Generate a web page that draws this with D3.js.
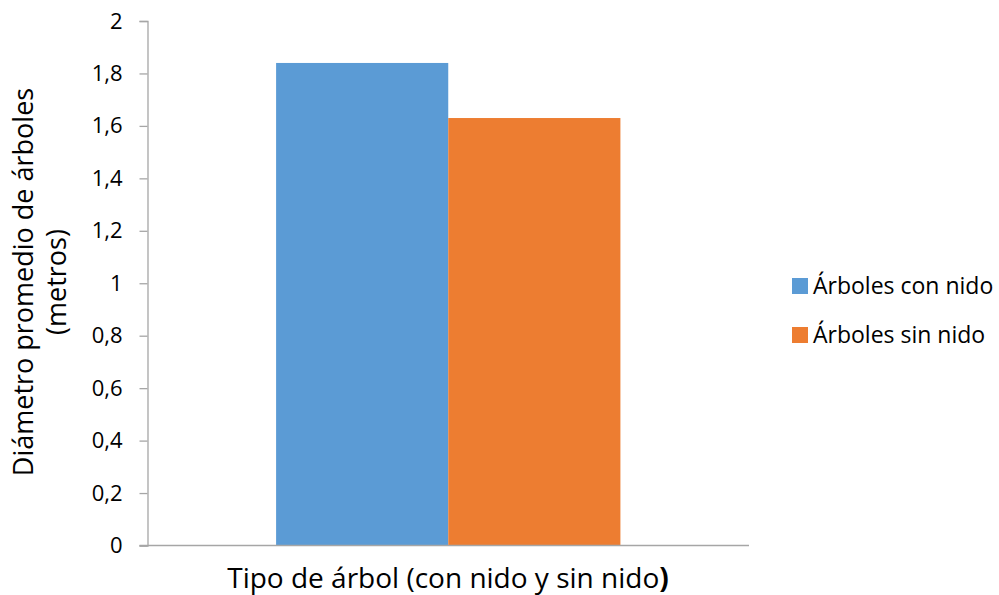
<!DOCTYPE html>
<html>
<head>
<meta charset="utf-8">
<script src="https://cdn.jsdelivr.net/npm/d3@7"></script>
<style>
  html, body { margin: 0; padding: 0; background: #fff; }
  svg { display: block; font-family: "Open Sans", Lato, sans-serif; }
</style>
</head>
<body>
<svg id="chart" width="999" height="595"></svg>
<script>
// Diámetro promedio de árboles, con y sin nido
const categories = ["Tipo de árbol"];
const seriesNames = ["Árboles con nido", "Árboles sin nido"];
const seriesValues = [1.84, 1.63];
const seriesColors = ["#5b9bd5", "#ed7d31"];
const yTicks = [0, 0.2, 0.4, 0.6, 0.8, 1, 1.2, 1.4, 1.6, 1.8, 2];
const xTitle = "Tipo de árbol (con nido y sin nido";
const yTitleLines = ["Diámetro promedio de árboles", "(metros)"];

const svg = d3.select("#chart");
const plot = { left: 147.5, right: 749, top: 21, bottom: 545.5 };
const axisColor = "#a6a6a6";
const fontFamily = "'Open Sans', Lato, sans-serif";

const y = d3.scaleLinear().domain([0, 2]).range([plot.bottom, plot.top]);
const x0 = d3.scaleBand().domain(categories).range([plot.left, plot.right])
  .paddingInner(0).paddingOuter(0.3735);
const x1 = d3.scaleBand().domain(seriesNames).range([0, x0.bandwidth()]).padding(0);

const fmt = v => String(+v.toFixed(1)).replace(".", ",");

// y axis
const yAxis = svg.append("g")
  .attr("transform", `translate(${plot.left},0)`)
  .call(d3.axisLeft(y).tickValues(yTicks).tickFormat(fmt).tickSize(8).tickPadding(17));
yAxis.attr("font-family", null).attr("font-size", null);
yAxis.select(".domain").attr("stroke", axisColor).attr("stroke-width", 1.3);
yAxis.selectAll(".tick line").attr("stroke", axisColor).attr("stroke-width", 1.3);
yAxis.selectAll(".tick text").attr("fill", "#000")
  .style("font-size", "22px").style("font-family", fontFamily);

// bars
const group = svg.append("g").selectAll("g").data(categories).join("g")
  .attr("transform", d => `translate(${x0(d)},0)`);
group.selectAll("rect")
  .data(seriesNames.map((name, i) => ({ name, value: seriesValues[i], color: seriesColors[i] })))
  .join("rect")
  .attr("x", d => x1(d.name))
  .attr("width", x1.bandwidth())
  .attr("y", d => y(d.value))
  .attr("height", d => y(0) - y(d.value))
  .attr("fill", d => d.color);

// x axis baseline
svg.append("line")
  .attr("x1", plot.left - 8).attr("x2", plot.right)
  .attr("y1", y(0)).attr("y2", y(0))
  .attr("stroke", axisColor).attr("stroke-width", 1.3);

// x axis title (closing parenthesis drawn bold)
const xt = svg.append("text")
  .attr("x", 448).attr("y", 588)
  .attr("text-anchor", "middle")
  .style("font-size", "28px").style("font-family", fontFamily).attr("fill", "#000");
xt.append("tspan").text(xTitle);
xt.append("tspan").attr("font-weight", "bold").text(")");

// y axis title
const yt = svg.append("text")
  .attr("transform", "translate(0,282) rotate(-90)")
  .attr("text-anchor", "middle")
  .style("font-size", "27px").style("font-family", fontFamily).attr("fill", "#000");
yTitleLines.forEach((line, i) => {
  yt.append("tspan").attr("x", 0).attr("y", 33 + i * 33).text(line);
});

// legend
const legend = svg.append("g").attr("transform", "translate(792,278)");
const items = legend.selectAll("g").data(seriesNames).join("g")
  .attr("transform", (d, i) => `translate(0,${i * 49})`);
items.append("rect").attr("width", 16).attr("height", 16)
  .attr("fill", (d, i) => seriesColors[i]);
items.append("text").attr("x", 21).attr("y", 16)
  .style("font-size", "23px").style("font-family", fontFamily)
  .attr("fill", "#000").text(d => d);
</script>
</body>
</html>
